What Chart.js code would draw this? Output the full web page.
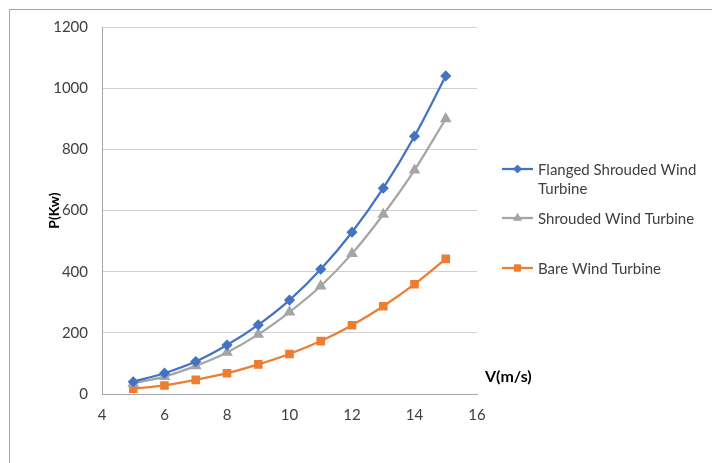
<!DOCTYPE html>
<html>
<head>
<meta charset="utf-8">
<script src="https://cdn.jsdelivr.net/npm/chart.js@4/dist/chart.umd.min.js"></script>
<style>
  html, body { margin: 0; padding: 0; background: #fff; }
  #wrap { position: relative; width: 712px; height: 463px; }
  #frame { position: absolute; left: 9px; top: 9px; right: -2px; bottom: -2px;
           border-top: 1px solid #a6a6a6; border-left: 1px solid #a6a6a6; pointer-events: none; }
  canvas { position: absolute; left: 0; top: 0; }
</style>
</head>
<body>
<div id="wrap">
  <canvas id="c" width="712" height="463"></canvas>
  <div id="frame"></div>
</div>
<script>
// Wind speed (m/s) and power output (kW) for each turbine type
const speeds = [5, 6, 7, 8, 9, 10, 11, 12, 13, 14, 15];
const flangedShrouded = [40, 68, 106, 160, 226, 307, 408, 529, 673, 843, 1040];
const shrouded = [35, 57, 92, 136, 195, 268, 353, 459, 587, 732, 900];
const bare = [17, 28, 46, 68, 97, 131, 173, 225, 287, 359, 442];
const seriesNames = [['Flanged Shrouded Wind', 'Turbine'], ['Shrouded Wind Turbine'], ['Bare Wind Turbine']];
const xTicks = [4, 6, 8, 10, 12, 14, 16];
const yTicks = [0, 200, 400, 600, 800, 1000, 1200];

const FONT = 'Lato, "Open Sans", sans-serif';
const colors = ['#4472C4', '#A5A5A5', '#ED7D31'];
const styles = ['rectRot', 'triangle', 'rect'];
const radii = [4, 4.5, 4.5];
const legendRows = [169, 218, 268];

function toPoints(vals) { return speeds.map((x, i) => ({ x, y: vals[i] })); }

const overlay = {
  id: 'overlay',
  afterDraw(chart) {
    const ctx = chart.ctx;
    const a = chart.chartArea;
    ctx.save();
    ctx.fillStyle = '#000';
    // y axis title
    ctx.font = 'bold 14px ' + FONT;
    ctx.textAlign = 'center';
    ctx.textBaseline = 'middle';
    ctx.translate(54, (a.top + a.bottom) / 2);
    ctx.rotate(-Math.PI / 2);
    ctx.fillText('P(Kw)', 0, 0);
    ctx.restore();

    // x axis title at the right end of the axis
    ctx.save();
    ctx.font = 'bold 16px ' + FONT;
    ctx.textAlign = 'left';
    ctx.textBaseline = 'middle';
    ctx.fillStyle = '#000';
    ctx.fillText('V(m/s)', a.right + 8, a.bottom - 17);
    ctx.restore();

    // legend
    ctx.save();
    chart.data.datasets.forEach((ds, i) => {
      const y = legendRows[i];
      ctx.strokeStyle = ds.borderColor;
      ctx.lineWidth = 2.25;
      ctx.beginPath();
      ctx.moveTo(502, y);
      ctx.lineTo(533, y);
      ctx.stroke();
      ctx.fillStyle = ds.pointBackgroundColor;
      ctx.strokeStyle = ds.pointBorderColor;
      ctx.lineWidth = 1;
      Chart.helpers.drawPoint(ctx, {
        pointStyle: ds.pointStyle, radius: ds.pointRadius, borderWidth: 1
      }, 517.5, y);
      ctx.fillStyle = '#404040';
      ctx.font = '15px ' + FONT;
      ctx.textAlign = 'left';
      ctx.textBaseline = 'middle';
      seriesNames[i].forEach((line, k) => ctx.fillText(line, 538, y + 1 + k * 19));
    });
    ctx.restore();
  }
};

new Chart(document.getElementById('c'), {
  type: 'line',
  data: {
    datasets: [flangedShrouded, shrouded, bare].map((vals, i) => ({
      label: seriesNames[i].join(' '),
      data: toPoints(vals),
      borderColor: colors[i],
      backgroundColor: colors[i],
      pointBackgroundColor: colors[i],
      pointBorderColor: colors[i],
      pointStyle: styles[i],
      pointRadius: radii[i],
      pointHoverRadius: radii[i],
      borderWidth: 2.25,
      tension: 0.35,
      fill: false
    }))
  },
  options: {
    responsive: false,
    animation: false,
    events: [],
    layout: { padding: { left: 0, right: 235, top: 27, bottom: 0 } },
    plugins: { legend: { display: false }, tooltip: { enabled: false } },
    scales: {
      x: {
        type: 'linear',
        min: xTicks[0], max: xTicks[xTicks.length - 1],
        afterBuildTicks: s => { s.ticks = xTicks.map(v => ({ value: v })); },
        afterFit: s => { s.height = 69; },
        grid: { display: false, drawTicks: false },
        border: { display: true, color: '#a6a6a6', width: 1 },
        ticks: { padding: 12, color: '#404040', font: { family: FONT, size: 15 },
                 callback: v => String(v) }
      },
      y: {
        min: yTicks[0], max: yTicks[yTicks.length - 1],
        afterBuildTicks: s => { s.ticks = yTicks.map(v => ({ value: v })); },
        afterFit: s => { s.width = 102; },
        grid: { color: '#d0d0d0', lineWidth: 1, drawTicks: false },
        border: { display: true, color: '#a6a6a6', width: 1 },
        ticks: { padding: 14, color: '#404040', font: { family: FONT, size: 15 },
                 callback: v => String(v) }
      }
    }
  },
  plugins: [overlay]
});
</script>
</body>
</html>
